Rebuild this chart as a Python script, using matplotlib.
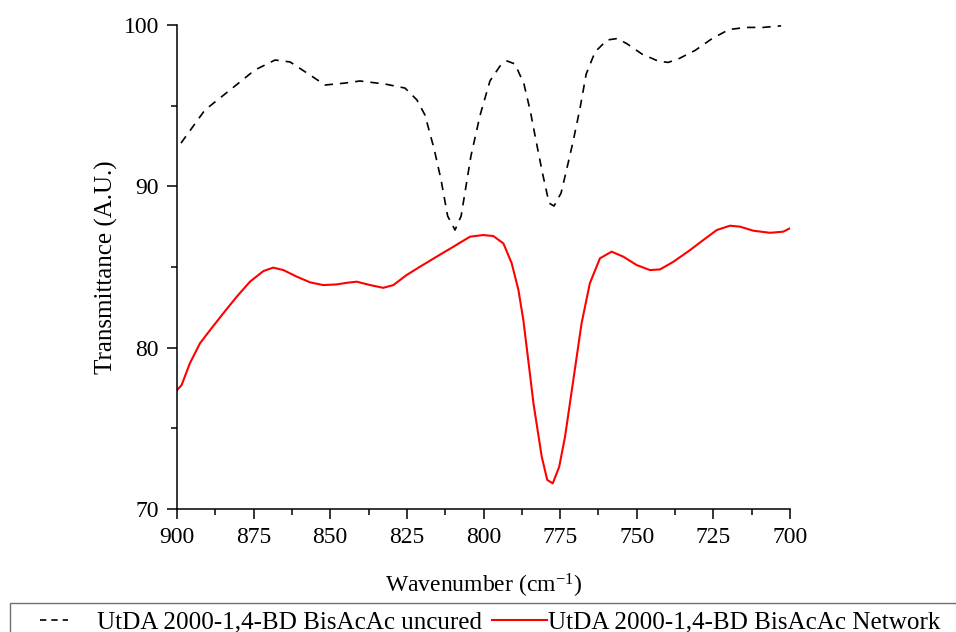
import matplotlib
matplotlib.use("Agg")
import matplotlib.pyplot as plt
import numpy as np
from matplotlib.lines import Line2D
from matplotlib.patches import Rectangle
from matplotlib.ticker import MultipleLocator

plt.rcParams["font.family"] = ["Liberation Serif", "DejaVu Serif"]
plt.rcParams["mathtext.fontset"] = "custom"
plt.rcParams["mathtext.rm"] = "Liberation Serif"
plt.rcParams["mathtext.default"] = "regular"

# FTIR spectra, 900-700 cm-1
wn_uncured = [898.7, 890.9, 882.7, 874.6, 868.0, 863.1, 856.6, 851.7, 845.2, 840.3,
              832.1, 825.6, 821.7, 819.1, 816.1, 813.9, 811.7, 809.3, 807.3, 804.1,
              801.1, 797.9, 794.6, 792.3, 789.7, 786.8, 784.7, 783.0, 780.8, 778.6,
              777.0, 774.7, 773.1, 770.8, 768.5, 766.5, 763.6, 759.7, 756.4, 753.2,
              748.3, 743.1, 739.8, 736.5, 731.0, 725.4, 719.9, 714.3, 708.8, 702.9]
t_uncured = [92.68, 94.73, 95.97, 97.21, 97.83, 97.71, 96.90, 96.28, 96.40, 96.53,
             96.34, 96.09, 95.35, 94.42, 92.31, 90.45, 88.16, 87.29, 88.16, 91.88,
             94.42, 96.53, 97.46, 97.77, 97.58, 96.34, 94.64, 92.96, 90.86, 88.96,
             88.78, 89.58, 90.86, 92.75, 94.85, 96.96, 98.33, 99.07, 99.16, 98.84,
             98.20, 97.77, 97.68, 97.89, 98.42, 99.16, 99.72, 99.85, 99.85, 99.95]

wn_network = [900.0, 898.5, 895.8, 892.5, 889.2, 884.9, 880.5, 876.2, 871.8, 868.6,
              865.3, 860.9, 856.6, 852.3, 847.9, 844.6, 841.4, 837.0, 832.7, 829.4,
              825.1, 820.7, 815.3, 809.8, 804.4, 800.1, 796.8, 793.5, 790.8, 788.6,
              787.0, 785.4, 783.7, 781.0, 779.2, 777.4, 775.3, 773.4, 770.7, 768.0,
              765.3, 762.0, 758.2, 754.4, 750.0, 745.7, 742.4, 738.0, 732.6, 728.3,
              723.9, 719.6, 716.3, 712.0, 706.5, 702.2, 700.0]
t_network = [77.37, 77.68, 79.03, 80.27, 81.09, 82.13, 83.16, 84.09, 84.75, 84.96,
             84.81, 84.40, 84.05, 83.88, 83.92, 84.02, 84.09, 83.88, 83.71, 83.88,
             84.50, 85.02, 85.64, 86.26, 86.88, 86.98, 86.92, 86.46, 85.23, 83.57,
             81.71, 79.23, 76.55, 73.24, 71.80, 71.59, 72.62, 74.48, 77.99, 81.51,
             83.99, 85.54, 85.95, 85.64, 85.12, 84.81, 84.85, 85.33, 86.05, 86.67,
             87.29, 87.56, 87.50, 87.25, 87.12, 87.19, 87.40]

labels = ["UtDA 2000-1,4-BD BisAcAc uncured", "UtDA 2000-1,4-BD BisAcAc Network"]

W, H = 956, 632
fig = plt.figure(figsize=(W / 100, H / 100), dpi=100)
ax = fig.add_axes([177 / W, 1 - 509 / H, 613 / W, 484 / H])

dash_style = (0, (5, 4.2))
ax.plot(wn_uncured, t_uncured, color="black", lw=1.2, linestyle=dash_style)
ax.plot(wn_network, t_network, color="red", lw=1.5)

ax.set_xlim(900, 700)
ax.set_ylim(70, 100)
ax.xaxis.set_major_locator(MultipleLocator(25))
ax.xaxis.set_minor_locator(MultipleLocator(12.5))
ax.yaxis.set_major_locator(MultipleLocator(10))
ax.yaxis.set_minor_locator(MultipleLocator(5))

for side in ["top", "right"]:
    ax.spines[side].set_visible(False)
for side in ["left", "bottom"]:
    ax.spines[side].set_linewidth(1.1)

ax.tick_params(which="major", direction="out", length=7, width=1.1, labelsize=17)
ax.tick_params(which="minor", direction="out", length=4, width=1.1)
ax.tick_params(axis="x", which="major", pad=6)
ax.tick_params(axis="y", which="major", pad=6)

ax.set_xlabel("Wavenumber (cm$^{-1}$)", fontsize=17, labelpad=17)
ax.set_ylabel("Transmittance (A.U.)", fontsize=18, labelpad=4)

# legend strip along the bottom edge, laid out in pixels
def px(x, y):
    return x / W, 1 - y / H

fig.add_artist(Rectangle(px(10, 700), 1.2, (700 - 603) / H, transform=fig.transFigure,
                         fill=False, edgecolor="#707070", lw=1.0))
(x0, y0), (x1, _) = px(40, 620), px(68, 620)
fig.add_artist(Line2D([x0, x1], [y0, y0], transform=fig.transFigure, color="black",
                      lw=1.2, linestyle=(0, (3.8, 3.0))))
fig.text(*px(97, 628), labels[0], fontsize=18.1, va="baseline", ha="left")
(x0, y0), (x1, _) = px(492, 619.5), px(547, 619.5)
fig.add_artist(Line2D([x0, x1], [y0, y0], transform=fig.transFigure, color="red", lw=1.5))
fig.text(*px(548, 628), labels[1], fontsize=18.1, va="baseline", ha="left")

fig.savefig("out.png", dpi=100)
